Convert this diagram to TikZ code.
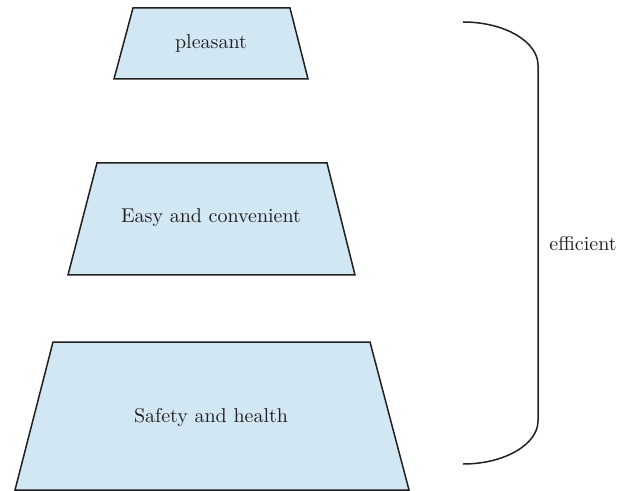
\documentclass[tikz,border=0pt]{standalone}
\usepackage{xcolor}
\usepackage{tikz}
\definecolor{levelfill}{HTML}{D1E7F3}
\definecolor{inkgray}{HTML}{231F20}

\begin{document}
\begin{tikzpicture}[x=0.5pt, y=-0.5pt, line width=0.75pt,
  level/.style={fill=levelfill, draw=inkgray, line join=miter},
  lbl/.style={text=inkgray, font=\normalsize}]
\useasboundingbox (0,0) rectangle (625,491);
% three levels
\draw[level] (133,8) -- (290,8) -- (308,79) -- (114,79) -- cycle;
\draw[level] (97,163) -- (327,163) -- (355,275) -- (68,275) -- cycle;
\draw[level] (53,342) -- (370,342) -- (409,490) -- (15,490) -- cycle;
\node[lbl] (pleasant) at (211,44) {pleasant};
\node[lbl] (easy) at (211,218) {Easy and convenient};
\node[lbl] (safety) at (211,417) {Safety and health};
% bracket
\coordinate (btop) at (463,22);
\coordinate (bbot) at (463,464);
\draw[inkgray] (btop) .. controls (505,22) and (538,42) .. (538,65)
  -- (538,421) .. controls (538,444) and (505,464) .. (bbot);
\node[lbl, anchor=west] (efficient) at (542,244) {efficient};

\end{tikzpicture}
\end{document}
